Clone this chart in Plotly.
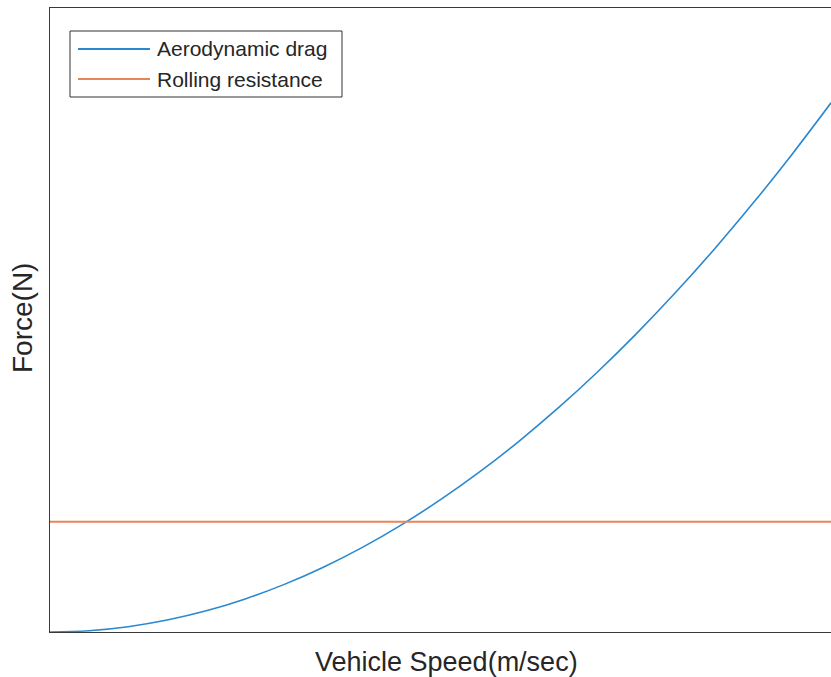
import plotly.graph_objects as go

# Vehicle speed samples (m/s)
speed = [0, 2, 4, 6, 8, 10, 12, 14, 16, 18, 20, 22, 24, 26, 28, 30, 32, 34, 36, 38, 40]
# Aerodynamic drag force at each speed (N)
aero_drag = [0.0, 2.5, 10.2, 22.9, 40.7, 63.6, 91.6, 124.7, 162.8, 206.1, 254.4,
             307.8, 366.3, 429.9, 498.6, 572.4, 651.3, 735.2, 824.3, 918.4, 1017.6]
# Rolling resistance is constant over speed (N)
rolling = [212.0] * len(speed)

series_names = ["Aerodynamic drag", "Rolling resistance"]
series_colors = ["#2a88cf", "#e8845a"]

x_title = "Vehicle Speed(m/sec)"
y_title = "Force(N)"

FONT = "Liberation Sans, Arial, Helvetica, sans-serif"

fig = go.Figure()
fig.add_trace(go.Scatter(x=speed, y=aero_drag, mode="lines", name=series_names[0],
                         line=dict(color=series_colors[0], width=1.6, shape="spline"),
                         showlegend=False))
fig.add_trace(go.Scatter(x=speed, y=rolling, mode="lines", name=series_names[1],
                         line=dict(color=series_colors[1], width=1.8),
                         showlegend=False))

# Boxed legend in the upper-left corner
shapes = [dict(type="rect", xref="paper", yref="paper",
               x0=20 / 781, x1=292 / 781, y0=1 - 89 / 624, y1=1 - 23 / 624,
               line=dict(color="#333333", width=1), fillcolor="white", layer="above")]
annotations = []
row_px = [41, 71]
for name, color, ypx in zip(series_names, series_colors, row_px):
    yp = 1 - ypx / 624
    shapes.append(dict(type="line", xref="paper", yref="paper",
                       x0=28 / 781, x1=100 / 781, y0=yp, y1=yp,
                       line=dict(color=color, width=1.8), layer="above"))
    annotations.append(dict(text=name, xref="paper", yref="paper", x=105 / 781, y=yp,
                            xanchor="left", yanchor="middle", showarrow=False,
                            font=dict(family=FONT, size=21, color="#262626")))

# Axis titles
annotations.append(dict(text=x_title, xref="paper", yref="paper", x=0.508, y=0,
                        yshift=-30, xanchor="center", yanchor="middle", showarrow=False,
                        font=dict(family=FONT, size=27, color="#262626")))
annotations.append(dict(text=y_title, xref="paper", yref="paper", x=0, y=0.5,
                        xshift=-28, yshift=2, textangle=-90, xanchor="center",
                        yanchor="middle", showarrow=False,
                        font=dict(family=FONT, size=28, color="#262626")))

fig.update_layout(
    width=831, height=677,
    margin=dict(l=50, r=0, t=8, b=45),
    plot_bgcolor="white", paper_bgcolor="white",
    shapes=shapes, annotations=annotations,
    xaxis=dict(range=[0, 40], showticklabels=False, ticks="", showgrid=False,
               zeroline=False, showline=True, linecolor="#3a3a3a", linewidth=1,
               mirror=True),
    yaxis=dict(range=[0, 1200], showticklabels=False, ticks="", showgrid=False,
               zeroline=False, showline=True, linecolor="#3a3a3a", linewidth=1,
               mirror=False),
)

fig.write_html("out.html")
